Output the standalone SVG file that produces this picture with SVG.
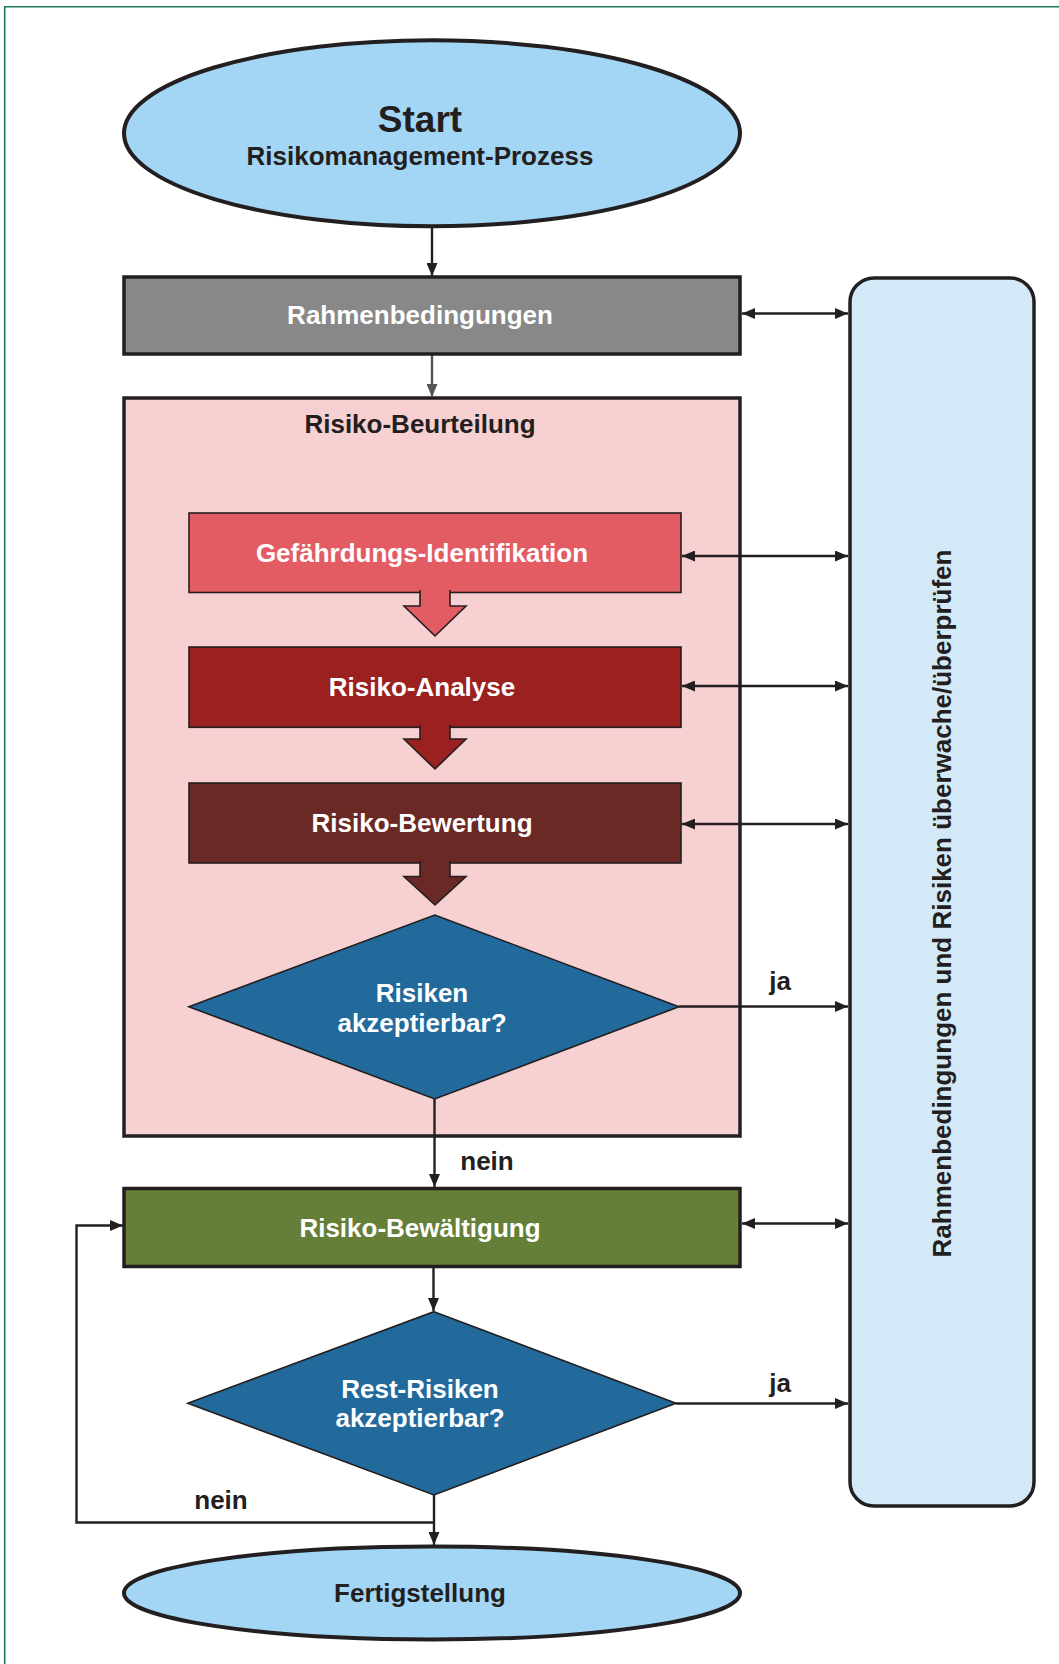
<svg xmlns="http://www.w3.org/2000/svg" width="1059" height="1664" viewBox="0 0 1059 1664">
<style>
text{font-family:"Liberation Sans",Arial,Helvetica,sans-serif;font-weight:bold;font-size:26px;text-anchor:middle}
.dk{fill:#231f20}
.wh{fill:#ffffff}
.thick{stroke:#231f20;stroke-width:3.5}
.thin{stroke:#231f20;stroke-width:1.6}
.con{fill:none;stroke:#231f20;stroke-width:2.4}
.dbl{marker-start:url(#ah);marker-end:url(#ah)}
.end{marker-end:url(#ah)}
</style>
<defs>
<marker id="ah" markerUnits="userSpaceOnUse" markerWidth="13" markerHeight="11" refX="13" refY="5.5" orient="auto-start-reverse" viewBox="0 0 13 11">
<path d="M0,0 L13,5.5 L0,11 z" fill="#231f20"/>
</marker>
<marker id="ahg" markerUnits="userSpaceOnUse" markerWidth="13" markerHeight="11" refX="13" refY="5.5" orient="auto" viewBox="0 0 13 11">
<path d="M0,0 L13,5.5 L0,11 z" fill="#555555"/>
</marker>
</defs>
<rect width="1059" height="1664" fill="#ffffff"/>
<g id="frame" fill="none" stroke="#1f7a5a" stroke-width="1.6">
<path d="M4.7,1664 V6.7 H1059"/>
</g>

<g id="monitor">
<rect x="850" y="278" width="184" height="1228" rx="24" ry="24" fill="#d3e9f8" class="thick"/>
<text class="dk" transform="translate(951,903.5) rotate(-90)">Rahmenbedingungen und Risiken überwache/überprüfen</text>
</g>

<g id="beurteilung">
<rect x="124" y="398" width="616" height="738" fill="#f7d0d2" class="thick"/>
<text class="dk" x="420" y="433">Risiko-Beurteilung</text>
</g>

<g id="connectors">
<line class="con end" x1="432" y1="227" x2="432" y2="276"/>
<line x1="432" y1="354" x2="432" y2="397" stroke="#555555" stroke-width="2.4" marker-end="url(#ahg)"/>
<line class="con dbl" x1="742" y1="313.5" x2="848" y2="313.5"/>
<line class="con dbl" x1="682" y1="556" x2="848" y2="556"/>
<line class="con dbl" x1="682" y1="686" x2="848" y2="686"/>
<line class="con dbl" x1="682" y1="824" x2="848" y2="824"/>
<line class="con end" x1="679" y1="1006.5" x2="848" y2="1006.5"/>
<line class="con end" x1="434.5" y1="1099" x2="434.5" y2="1187"/>
<line class="con dbl" x1="742" y1="1223.5" x2="848" y2="1223.5"/>
<line class="con end" x1="433.5" y1="1268" x2="433.5" y2="1311"/>
<line class="con end" x1="676" y1="1403.5" x2="848" y2="1403.5"/>
<line class="con end" x1="434" y1="1495" x2="434" y2="1545"/>
<polyline class="con end" points="434,1522.5 76.5,1522.5 76.5,1225.5 123,1225.5"/>
</g>

<g id="start">
<ellipse cx="432" cy="133.3" rx="308" ry="93" fill="#a3d6f5" stroke="#231f20" stroke-width="4"/>
<text class="dk" x="420" y="132" style="font-size:37px">Start</text>
<text class="dk" x="420" y="165">Risikomanagement-Prozess</text>
</g>

<g id="rahmen">
<rect x="124" y="277" width="616" height="77" fill="#888888" class="thick"/>
<text class="wh" x="420" y="324">Rahmenbedingungen</text>
</g>

<g id="gefaehrdung">
<rect x="189" y="513" width="492" height="79.5" fill="#e35c64" class="thin"/>
<path d="M420,590 V606 H404 L435,636 L466,606 H450 V590" fill="#e35c64" class="thin"/>
<text class="wh" x="422" y="562">Gefährdungs-Identifikation</text>
</g>

<g id="analyse">
<rect x="189" y="647" width="492" height="80.3" fill="#9b2120" class="thin"/>
<path d="M420,725 V739 H404 L435,769 L466,739 H450 V725" fill="#9b2120" class="thin"/>
<text class="wh" x="422" y="696">Risiko-Analyse</text>
</g>

<g id="bewertung">
<rect x="189" y="783" width="492" height="80" fill="#6a2924" class="thin"/>
<path d="M420,861 V876.5 H404 L435,905 L466,876.5 H450 V861" fill="#6a2924" class="thin"/>
<text class="wh" x="422" y="832">Risiko-Bewertung</text>
</g>

<g id="entscheidung1">
<polygon points="434.7,915 679,1006.7 434.7,1099 188.8,1006.7" fill="#226a9b" class="thin"/>
<text class="wh" x="422" y="1002">Risiken</text>
<text class="wh" x="422" y="1032">akzeptierbar?</text>
</g>

<g id="bewaeltigung">
<rect x="124" y="1188.5" width="616" height="78" fill="#667f38" class="thick"/>
<text class="wh" x="420" y="1237">Risiko-Bewältigung</text>
</g>

<g id="entscheidung2">
<polygon points="434,1311.7 676,1403.3 434,1495 187.8,1403.3" fill="#226a9b" class="thin"/>
<text class="wh" x="420" y="1398">Rest-Risiken</text>
<text class="wh" x="420" y="1427">akzeptierbar?</text>
</g>

<g id="ende">
<ellipse cx="432" cy="1593" rx="308" ry="46.5" fill="#a3d6f5" stroke="#231f20" stroke-width="4"/>
<text class="dk" x="420" y="1602">Fertigstellung</text>
</g>

<g id="labels">
<text class="dk" x="780" y="990">ja</text>
<text class="dk" x="487" y="1170">nein</text>
<text class="dk" x="780" y="1392">ja</text>
<text class="dk" x="221" y="1509">nein</text>
</g>
</svg>
